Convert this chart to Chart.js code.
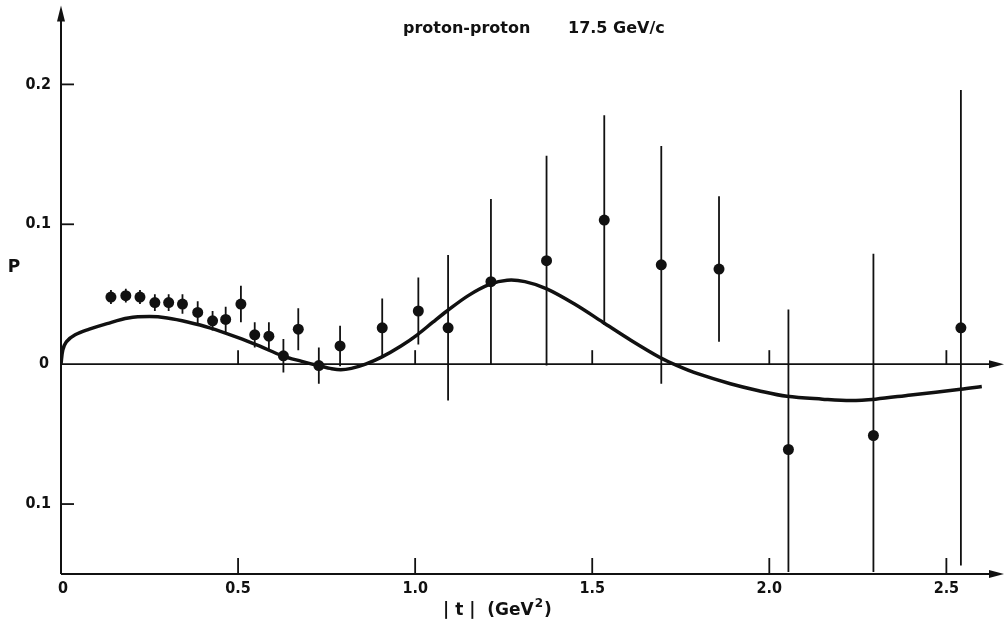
<!DOCTYPE html>
<html>
<head>
<meta charset="utf-8">
<script src="https://cdn.jsdelivr.net/npm/chart.js@4/dist/chart.umd.min.js"></script>
<style>
  html, body { margin: 0; padding: 0; background: #fff; }
  #wrap { width: 1005px; height: 626px; position: relative; }
</style>
</head>
<body>
<div id="wrap"><canvas id="chart"></canvas></div>
<script>
"use strict";

// Polarisation P vs |t| for proton-proton at 17.5 GeV/c, with model curve.

// ---------- data ----------
const tPts   = [0.141, 0.183, 0.223, 0.265, 0.304, 0.343, 0.386, 0.428, 0.465, 0.508,
                0.547, 0.587, 0.628, 0.670, 0.728, 0.788, 0.907, 1.009, 1.093, 1.214,
                1.371, 1.534, 1.695, 1.858, 2.054, 2.294, 2.541];
const pPts   = [0.048, 0.049, 0.048, 0.044, 0.044, 0.043, 0.037, 0.031, 0.032, 0.043,
                0.021, 0.020, 0.006, 0.025, -0.001, 0.013, 0.026, 0.038, 0.026, 0.059,
                0.074, 0.103, 0.071, 0.068, -0.061, -0.051, 0.026];
const pErr   = [0.005, 0.005, 0.005, 0.006, 0.006, 0.007, 0.008, 0.007, 0.009, 0.013,
                0.009, 0.010, 0.012, 0.015, 0.013, 0.0145, 0.021, 0.024, 0.052, 0.059,
                0.075, 0.075, 0.085, 0.052, 0.100, 0.130, 0.170];

const tCurve = [0, 0.005, 0.015, 0.04, 0.08, 0.13, 0.19, 0.25, 0.30, 0.36, 0.42, 0.50,
                0.56, 0.625, 0.68, 0.725, 0.76, 0.79, 0.82, 0.86, 0.905, 0.96, 1.006,
                1.05, 1.09, 1.15, 1.21, 1.26, 1.31, 1.37, 1.45, 1.53, 1.61, 1.69, 1.74,
                1.80, 1.89, 1.97, 2.05, 2.15, 2.23, 2.30, 2.40, 2.54, 2.60];
const pCurve = [0, 0.010, 0.016, 0.021, 0.025, 0.029, 0.033, 0.034, 0.033, 0.030, 0.026, 0.019,
                0.013, 0.006, 0.002, -0.001, -0.003, -0.004, -0.003, 0.000, 0.005, 0.013, 0.021,
                0.030, 0.038, 0.049, 0.057, 0.060, 0.059, 0.054, 0.043, 0.030, 0.017, 0.005, -0.001,
                -0.007, -0.014, -0.019, -0.023, -0.025, -0.026, -0.025, -0.022, -0.018, -0.016];

const xTicks = [0.5, 1.0, 1.5, 2.0, 2.5];
const xTickLabels = ["0.5", "1.0", "1.5", "2.0", "2.5"];
const yTicks = [0.2, 0.1, -0.1];
const yTickLabels = ["0.2", "0.1", "0.1"];
const zeroTicks = [0.5, 1.0, 1.5, 2.0, 2.5];

const TITLE_L = "proton-proton";
const TITLE_R = "17.5 GeV/c";
const FONT = '"DejaVu Sans", sans-serif';
const FONT_C = '"DejaVu Sans Condensed", "DejaVu Sans", sans-serif';
const INK = "#111";

// ---------- error bars ----------
const errorBars = {
  id: "errorBars",
  beforeDatasetsDraw(chart) {
    const { ctx, chartArea: a, scales: { x, y } } = chart;
    ctx.save();
    ctx.beginPath();
    ctx.rect(a.left, a.top, a.right - a.left, a.bottom - a.top - 2);
    ctx.clip();
    ctx.strokeStyle = INK;
    ctx.lineWidth = 1.8;
    for (let i = 0; i < tPts.length; i++) {
      const px = x.getPixelForValue(tPts[i]);
      ctx.beginPath();
      ctx.moveTo(px, y.getPixelForValue(pPts[i] + pErr[i]));
      ctx.lineTo(px, y.getPixelForValue(pPts[i] - pErr[i]));
      ctx.stroke();
    }
    ctx.restore();
  }
};

// ---------- hand-drawn style axes ----------
function arrowUp(ctx, px, py) {
  ctx.beginPath();
  ctx.moveTo(px, py);
  ctx.lineTo(px - 4, py + 16);
  ctx.lineTo(px + 4, py + 16);
  ctx.closePath();
  ctx.fill();
}
function arrowRight(ctx, px, py) {
  ctx.beginPath();
  ctx.moveTo(px, py);
  ctx.lineTo(px - 15, py - 4);
  ctx.lineTo(px - 15, py + 4);
  ctx.closePath();
  ctx.fill();
}

const axesDraw = {
  id: "axesDraw",
  beforeDatasetsDraw(chart) {
    const { ctx, chartArea: a, scales: { x, y } } = chart;
    const W = chart.width;
    const x0 = x.getPixelForValue(0);
    const y0 = y.getPixelForValue(0);
    const yb = a.bottom;
    ctx.save();
    ctx.strokeStyle = INK;
    ctx.fillStyle = INK;
    ctx.lineWidth = 2;

    // y axis with arrow
    ctx.beginPath(); ctx.moveTo(x0, yb); ctx.lineTo(x0, a.top + 4); ctx.stroke();
    arrowUp(ctx, x0, a.top);
    // bottom axis and zero line, both with arrows
    ctx.beginPath(); ctx.moveTo(x0, yb); ctx.lineTo(W - 6, yb); ctx.stroke();
    arrowRight(ctx, W - 1, yb);
    ctx.lineWidth = 1.8;
    ctx.beginPath(); ctx.moveTo(x0, y0); ctx.lineTo(W - 6, y0); ctx.stroke();
    arrowRight(ctx, W - 1, y0);

    // ticks
    ctx.lineWidth = 1.8;
    yTicks.forEach(v => {
      const py = y.getPixelForValue(v);
      ctx.beginPath(); ctx.moveTo(x0, py); ctx.lineTo(x0 + 13, py); ctx.stroke();
    });
    xTicks.forEach(v => {
      const px = x.getPixelForValue(v);
      ctx.beginPath(); ctx.moveTo(px, yb); ctx.lineTo(px, yb - 16); ctx.stroke();
    });
    zeroTicks.forEach(v => {
      const px = x.getPixelForValue(v);
      ctx.beginPath(); ctx.moveTo(px, y0); ctx.lineTo(px, y0 - 14); ctx.stroke();
    });

    // tick labels
    ctx.font = "bold 16px " + FONT_C;
    ctx.textBaseline = "middle";
    ctx.textAlign = "right";
    yTicks.forEach((v, i) => ctx.fillText(yTickLabels[i], x0 - 10, y.getPixelForValue(v)));
    ctx.fillText("0", x0 - 12, y0);
    ctx.textAlign = "center";
    ctx.fillText("0", x0 + 2, yb + 15);
    xTicks.forEach((v, i) => ctx.fillText(xTickLabels[i], x.getPixelForValue(v), yb + 15));

    // axis titles
    ctx.font = "bold 17px " + FONT;
    ctx.fillText("P", 14, 268);

    ctx.font = "bold 17px " + FONT;
    ctx.textAlign = "left";
    const tx = 443, ty = yb + 37;
    const s1 = "| t |  (GeV";
    ctx.fillText(s1, tx, ty);
    let w = ctx.measureText(s1).width;
    ctx.font = "bold 12px " + FONT;
    ctx.fillText("2", tx + w + 1, ty - 7);
    w += ctx.measureText("2").width + 2;
    ctx.font = "bold 17px " + FONT;
    ctx.fillText(")", tx + w, ty);

    // figure title
    ctx.font = "bold 16px " + FONT;
    ctx.fillText(TITLE_L, 403, 29);
    ctx.fillText(TITLE_R, 568, 29);
    ctx.restore();
  }
};

// ---------- chart ----------
new Chart(document.getElementById("chart"), {
  type: "scatter",
  data: {
    datasets: [
      {
        label: "data",
        data: tPts.map((t, i) => ({ x: t, y: pPts[i] })),
        pointRadius: 5.5,
        pointBackgroundColor: INK,
        pointBorderColor: INK,
        pointBorderWidth: 0,
        showLine: false,
        order: 0,
      },
      {
        label: "model",
        data: tCurve.map((t, i) => ({ x: t, y: pCurve[i] })),
        showLine: true,
        borderColor: INK,
        borderWidth: 3.5,
        pointRadius: 0,
        tension: 0.35,
        order: 1,
      },
    ],
  },
  options: {
    responsive: true,
    maintainAspectRatio: false,
    animation: false,
    layout: { padding: { left: 61, right: 4, top: 5, bottom: 52 } },
    plugins: { legend: { display: false }, tooltip: { enabled: false }, title: { display: false } },
    scales: {
      x: { type: "linear", min: 0, max: 2.65, display: false },
      y: { type: "linear", min: -0.15, max: 0.2564, display: false },
    },
  },
  plugins: [axesDraw, errorBars],
});
</script>
</body>
</html>
